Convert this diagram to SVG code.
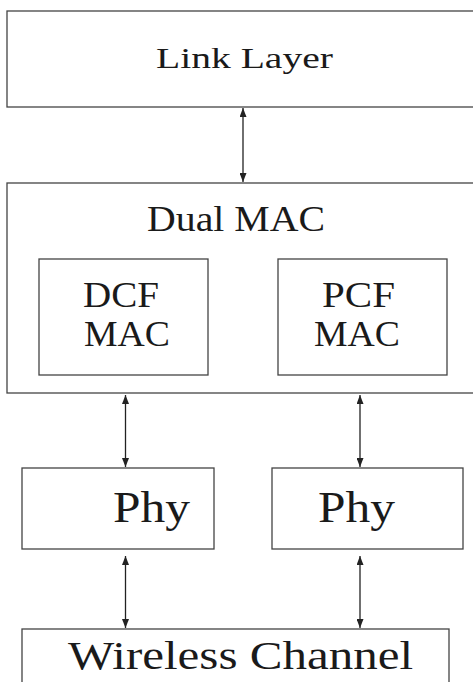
<svg xmlns="http://www.w3.org/2000/svg" width="473" height="682" viewBox="0 0 473 682">
<defs>
<marker id="ah" viewBox="0 0 9 7" refX="9" refY="3.5" markerWidth="9" markerHeight="7" markerUnits="userSpaceOnUse" orient="auto-start-reverse">
<path d="M0,0 L9,3.5 L0,7 Z" fill="#222"/>
</marker>
<style>
.box{fill:none;stroke:#444;stroke-width:1.3}
.t{fill:#1a1a1a}
.c{stroke:#222;stroke-width:1.3;fill:none;marker-start:url(#ah);marker-end:url(#ah)}
</style>
</defs>
<rect width="473" height="682" fill="#fff"/>
<g font-family="Liberation Serif, serif">
<g id="link-layer">
<rect class="box" x="7" y="11" width="480" height="96"/>
<text class="t" x="156" y="68" font-size="30" textLength="177" lengthAdjust="spacingAndGlyphs">Link Layer</text>
</g>
<g id="dual-mac">
<rect class="box" x="7" y="183" width="480" height="210"/>
<text class="t" x="147" y="231" font-size="35" textLength="178" lengthAdjust="spacingAndGlyphs">Dual MAC</text>
</g>
<g id="dcf-mac">
<rect class="box" x="39" y="259" width="169" height="116"/>
<text class="t" x="83" y="307" font-size="35" textLength="76" lengthAdjust="spacingAndGlyphs">DCF</text>
<text class="t" x="84" y="346" font-size="35" textLength="86" lengthAdjust="spacingAndGlyphs">MAC</text>
</g>
<g id="pcf-mac">
<rect class="box" x="278" y="259" width="169" height="116"/>
<text class="t" x="322" y="307" font-size="35" textLength="73" lengthAdjust="spacingAndGlyphs">PCF</text>
<text class="t" x="314" y="346" font-size="35" textLength="86" lengthAdjust="spacingAndGlyphs">MAC</text>
</g>
<g id="phy-left">
<rect class="box" x="22" y="468" width="192" height="81"/>
<text class="t" x="113" y="522" font-size="44" textLength="77" lengthAdjust="spacingAndGlyphs">Phy</text>
</g>
<g id="phy-right">
<rect class="box" x="272" y="468" width="191" height="81"/>
<text class="t" x="318" y="522" font-size="44" textLength="77" lengthAdjust="spacingAndGlyphs">Phy</text>
</g>
<g id="wireless-channel">
<rect class="box" x="22" y="629" width="427" height="80"/>
<text class="t" x="68" y="669" font-size="41" textLength="345" lengthAdjust="spacingAndGlyphs">Wireless Channel</text>
</g>
</g>
<g id="connectors">
<line class="c" x1="243" y1="108" x2="243" y2="182"/>
<line class="c" x1="125.5" y1="395" x2="125.5" y2="467"/>
<line class="c" x1="360" y1="395" x2="360" y2="467"/>
<line class="c" x1="125.5" y1="556" x2="125.5" y2="628"/>
<line class="c" x1="360" y1="556" x2="360" y2="628"/>
</g>
</svg>
